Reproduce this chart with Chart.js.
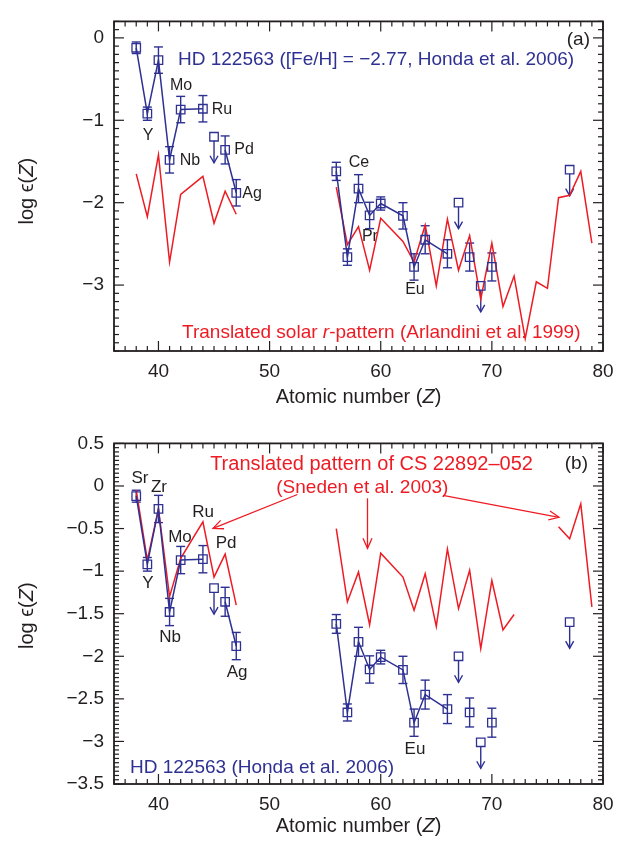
<!DOCTYPE html>
<html><head><meta charset="utf-8">
<script src="https://cdn.jsdelivr.net/npm/chart.js@4.4.0/dist/chart.umd.min.js"></script>
<style>
html,body{margin:0;padding:0;background:#fff;}
#wrap{position:relative;width:631px;height:844px;overflow:hidden;}
.pc{position:absolute;left:0;width:631px;height:422px;}
</style></head><body>
<div id="wrap">
<div class="pc" style="top:0"><canvas id="ca"></canvas></div>
<div class="pc" style="top:422px"><canvas id="cb"></canvas></div>
</div>
<script>
// ---------------- data ----------------
const xTicks = [40, 50, 60, 70, 80];
const yTicksA = [0, -1, -2, -3];
const yTicksB = [0.5, 0, -0.5, -1, -1.5, -2, -2.5, -3, -3.5];

// HD 122563 (Honda et al. 2006) detections
const hdZ   = [38, 39, 40, 41, 42, 44, 46, 47, 56, 57, 58, 59, 60, 62, 63, 64, 66, 68, 70];
const hdVal = [-0.12, -0.92, -0.27, -1.48, -0.87, -0.86, -1.36, -1.88, -1.62, -2.66, -1.83, -2.155, -2.01, -2.16, -2.78, -2.45, -2.62, -2.66, -2.78];
const hdErr = [0.07, 0.08, 0.16, 0.16, 0.16, 0.16, 0.17, 0.16, 0.11, 0.10, 0.17, 0.16, 0.08, 0.16, 0.16, 0.17, 0.17, 0.17, 0.17];
const hdGroup = [1, 1, 1, 1, 1, 1, 2, 2, 3, 3, 3, 3, 3, 3, 3, 3, 3, 4, 5];
// upper limits
const limZ   = [45, 67, 69, 77];
const limVal = [-1.20, -2.00, -3.01, -1.60];

// patterns
const patZ = [38, 39, 40, 41, 42, 44, 45, 46, 47, 48, 49, 50, 51, 52, 53, 54, 55,
              56, 57, 58, 59, 60, 62, 63, 64, 65, 66, 67, 68, 69, 70, 71, 72, 73, 74, 75, 76, 77, 78, 79];
const solarR = [-1.65, -2.17, -1.42, -2.72, -1.90, -1.68, -2.25, -1.86, -2.14, null, null, null, null, null, null, null, null,
                -1.81, -2.51, -2.29, -2.82, -2.19, -2.47, -2.72, -2.27, -3.01, -2.20, -2.82, -2.40, -3.17, -2.49, -3.26, -2.89, -3.65, -2.96, -3.04, -1.94, -1.91, -1.62, -2.49];
const cs22892 = [-0.05, -0.87, -0.27, -1.30, -0.85, -0.42, -1.07, -0.80, -1.40, null, null, null, null, null, null, null, null,
                 -0.50, -1.36, -1.01, -1.63, -0.79, -1.07, -1.46, -1.03, -1.65, -0.74, -1.44, -0.99, -1.91, -1.11, -1.69, -1.51, null, null, null, -0.48, -0.62, -0.21, -1.42];

// ---------------- styling ----------------
const BLUE = '#2e3192', RED = '#ed1c24', INK = '#231f20';
const FONT = '"Liberation Sans", Arial, Helvetica, sans-serif';

function hdLinePoints() {
  const pts = [];
  for (let i = 0; i < hdZ.length; i++) {
    if (i > 0 && hdGroup[i] !== hdGroup[i - 1]) pts.push({x: (hdZ[i] + hdZ[i - 1]) / 2, y: null});
    pts.push({x: hdZ[i], y: hdVal[i]});
  }
  return pts;
}
const limPoints = limZ.map((z, i) => ({x: z, y: limVal[i]}));
const patPoints = arr => patZ.map((z, i) => ({x: z, y: arr[i]}));

function fmt(v) {
  return v < 0 ? '\u2212' + String(Math.abs(v)) : String(v);
}

function rich(ctx, parts, x, y, align, size, color) {
  ctx.save();
  ctx.fillStyle = color;
  ctx.textBaseline = 'middle';
  ctx.textAlign = 'left';
  let w = 0;
  for (const p of parts) { ctx.font = (p.i ? 'italic ' : '') + size + 'px ' + FONT; w += ctx.measureText(p.t).width; }
  let cx = align === 'center' ? x - w / 2 : (align === 'right' ? x - w : x);
  for (const p of parts) {
    ctx.font = (p.i ? 'italic ' : '') + size + 'px ' + FONT;
    ctx.fillText(p.t, cx, y);
    cx += ctx.measureText(p.t).width;
  }
  ctx.restore();
}

function seg(ctx, x1, y1, x2, y2) { ctx.beginPath(); ctx.moveTo(x1, y1); ctx.lineTo(x2, y2); ctx.stroke(); }

function arrowHead(ctx, x1, y1, x2, y2, len, half) {
  const a = Math.atan2(y2 - y1, x2 - x1);
  ctx.beginPath();
  ctx.moveTo(x2 - len * Math.cos(a) + half * Math.sin(a), y2 - len * Math.sin(a) - half * Math.cos(a));
  ctx.lineTo(x2, y2);
  ctx.lineTo(x2 - len * Math.cos(a) - half * Math.sin(a), y2 - len * Math.sin(a) + half * Math.cos(a));
  ctx.stroke();
}

const deco = {
  id: 'deco',
  beforeDatasetsDraw(chart, args, o) {
    const {ctx, scales: {x, y}} = chart;
    ctx.save();
    // error bars
    ctx.strokeStyle = BLUE; ctx.lineWidth = 1.4;
    for (let i = 0; i < hdZ.length; i++) {
      const px = x.getPixelForValue(hdZ[i]);
      const y1 = y.getPixelForValue(hdVal[i] + hdErr[i]);
      const y2 = y.getPixelForValue(hdVal[i] - hdErr[i]);
      seg(ctx, px, y1, px, y2);
      seg(ctx, px - 4.5, y1, px + 4.5, y1);
      seg(ctx, px - 4.5, y2, px + 4.5, y2);
    }
    // upper-limit arrows
    for (let i = 0; i < limZ.length; i++) {
      const px = x.getPixelForValue(limZ[i]);
      const py = y.getPixelForValue(limVal[i]);
      seg(ctx, px, py + 4, px, py + 26);
      arrowHead(ctx, px, py, px, py + 26, 7, 4);
    }
    // element labels
    for (const l of o.labels) {
      rich(ctx, [{t: l.t}], x.getPixelForValue(l.z), y.getPixelForValue(l.v), 'center', o.lblSize, INK);
    }
    ctx.restore();
  },
  afterDraw(chart, args, o) {
    const {ctx, chartArea: a, scales: {x, y}} = chart;
    ctx.save();
    // frame
    ctx.strokeStyle = INK; ctx.lineWidth = 1.8;
    ctx.strokeRect(a.left, a.top, a.right - a.left, a.bottom - a.top);
    ctx.lineWidth = 1.2;
    // x ticks (inward, top & bottom)
    for (let v = x.min; v <= x.max; v++) {
      const px = x.getPixelForValue(v);
      const L = v % 10 === 0 ? 10 : 5;
      seg(ctx, px, a.bottom, px, a.bottom - L);
      seg(ctx, px, a.top, px, a.top + L);
    }
    // y ticks (inward, left & right)
    const n0 = Math.round(y.min / o.yMinor), n1 = Math.round(y.max / o.yMinor);
    const per = Math.round(o.yMajor / o.yMinor);
    for (let n = n0; n <= n1; n++) {
      const py = y.getPixelForValue(n * o.yMinor);
      const L = (n % per === 0) ? 10 : 5;
      seg(ctx, a.left, py, a.left + L, py);
      seg(ctx, a.right, py, a.right - L, py);
    }
    // axis titles
    rich(ctx, [{t: 'Atomic number ('}, {t: 'Z', i: true}, {t: ')'}], (a.left + a.right) / 2, a.bottom + o.xTitleOff, 'center', 20, INK);
    ctx.save();
    ctx.translate(27, (a.top + a.bottom) / 2 + o.yTitleOff);
    ctx.rotate(-Math.PI / 2);
    rich(ctx, [{t: 'log \u03f5('}, {t: 'Z', i: true}, {t: ')'}], 0, 0, 'center', 20, INK);
    ctx.restore();
    // texts
    for (const t of o.texts) {
      rich(ctx, t.parts, x.getPixelForValue(t.z), y.getPixelForValue(t.v), t.align, t.size, t.color);
    }
    // red pointer arrows
    ctx.strokeStyle = RED; ctx.lineWidth = 1.3;
    for (const ar of o.arrows) {
      const x1 = x.getPixelForValue(ar[0]), y1 = y.getPixelForValue(ar[1]);
      const x2 = x.getPixelForValue(ar[2]), y2 = y.getPixelForValue(ar[3]);
      seg(ctx, x1, y1, x2, y2);
      arrowHead(ctx, x1, y1, x2, y2, 10, 4.5);
    }
    ctx.restore();
  }
};

function makePanel(id, cfg) {
  const tickFont = {family: FONT, size: 19};
  return new Chart(document.getElementById(id), {
    type: 'scatter',
    data: {
      datasets: [
        {data: hdLinePoints(), showLine: true, borderColor: BLUE, borderWidth: 1.5,
         pointStyle: 'rect', pointRadius: 6, pointBorderColor: BLUE, pointBorderWidth: 1.3,
         pointBackgroundColor: 'rgba(0,0,0,0)', spanGaps: false},
        {data: limPoints, showLine: false, pointStyle: 'rect', pointRadius: 6, pointBorderColor: BLUE,
         pointBorderWidth: 1.3, pointBackgroundColor: 'rgba(0,0,0,0)'},
        {data: patPoints(cfg.pattern), showLine: true, borderColor: RED, borderWidth: 1.5, pointRadius: 0, spanGaps: false}
      ]
    },
    options: {
      responsive: true, maintainAspectRatio: false, animation: false,
      layout: {padding: {left: 0, right: 28, top: cfg.top, bottom: 0}},
      plugins: {legend: {display: false}, tooltip: {enabled: false}, deco: cfg.deco},
      scales: {
        x: {type: 'linear', min: 36, max: 80,
            afterBuildTicks: s => { s.ticks = xTicks.map(v => ({value: v})); },
            afterFit: s => { s.height = cfg.xh; },
            grid: {display: false, drawTicks: false}, border: {display: false},
            ticks: {font: tickFont, color: INK, padding: 9, maxRotation: 0, callback: v => fmt(v)}},
        y: {type: 'linear', min: cfg.ymin, max: cfg.ymax,
            afterBuildTicks: s => { s.ticks = cfg.yTicks.map(v => ({value: v})); },
            afterFit: s => { s.width = 114; },
            grid: {display: false, drawTicks: false}, border: {display: false},
            ticks: {font: tickFont, color: INK, padding: 10, callback: v => fmt(v)}}
      }
    },
    plugins: [deco]
  });
}

makePanel('ca', {
  pattern: solarR, top: 8, xh: 71, ymin: -3.8, ymax: 0.2, yTicks: yTicksA,
  deco: {
    yMinor: 0.1, yMajor: 1, xTitleOff: 46, yTitleOff: 5, lblSize: 16,
    labels: [
      {t: 'Y', z: 39.06, v: -1.19}, {t: 'Mo', z: 42.03, v: -0.58}, {t: 'Nb', z: 42.84, v: -1.49},
      {t: 'Ru', z: 45.72, v: -0.87}, {t: 'Pd', z: 47.70, v: -1.36}, {t: 'Ag', z: 48.42, v: -1.89},
      {t: 'Ce', z: 58.04, v: -1.51}, {t: 'Pr', z: 59.03, v: -2.41}, {t: 'Eu', z: 63.08, v: -3.05}
    ],
    texts: [
      {parts: [{t: 'HD 122563 ([Fe/H] = \u22122.77, Honda et al. 2006)'}], z: 41.76, v: -0.266, align: 'left', size: 19, color: BLUE},
      {parts: [{t: '(a)'}], z: 78.83, v: -0.02, align: 'right', size: 19, color: INK},
      {parts: [{t: 'Translated solar '}, {t: 'r', i: true}, {t: '-pattern (Arlandini et al. 1999)'}], z: 42.12, v: -3.578, align: 'left', size: 19, color: RED}
    ],
    arrows: []
  }
});

makePanel('cb', {
  pattern: cs22892, top: 21, xh: 60, ymin: -3.5, ymax: 0.5, yTicks: yTicksB,
  deco: {
    yMinor: 0.05, yMajor: 0.5, xTitleOff: 42, yTitleOff: 2, lblSize: 17,
    labels: [
      {t: 'Sr', z: 38.34, v: 0.089}, {t: 'Zr', z: 40.05, v: -0.016}, {t: 'Y', z: 39.06, v: -1.142},
      {t: 'Mo', z: 41.94, v: -0.603}, {t: 'Ru', z: 44.01, v: -0.309}, {t: 'Pd', z: 46.08, v: -0.673},
      {t: 'Nb', z: 41.04, v: -1.776}, {t: 'Ag', z: 47.07, v: -2.186}, {t: 'Eu', z: 63.08, v: -3.089}
    ],
    texts: [
      {parts: [{t: 'Translated pattern of CS 22892\u2013052'}], z: 44.65, v: 0.254, align: 'left', size: 20, color: RED},
      {parts: [{t: '(Sneden et al. 2003)'}], z: 50.6, v: -0.016, align: 'left', size: 19, color: RED},
      {parts: [{t: '(b)'}], z: 78.65, v: 0.265, align: 'right', size: 19, color: INK},
      {parts: [{t: 'HD 122563 (Honda et al. 2006)'}], z: 37.44, v: -3.312, align: 'left', size: 19, color: BLUE}
    ],
    arrows: [
      [52.5, -0.10, 44.91, -0.497],
      [58.81, -0.145, 58.81, -0.732],
      [65.6, -0.11, 76.04, -0.368]
    ]
  }
});
</script>
</body></html>
